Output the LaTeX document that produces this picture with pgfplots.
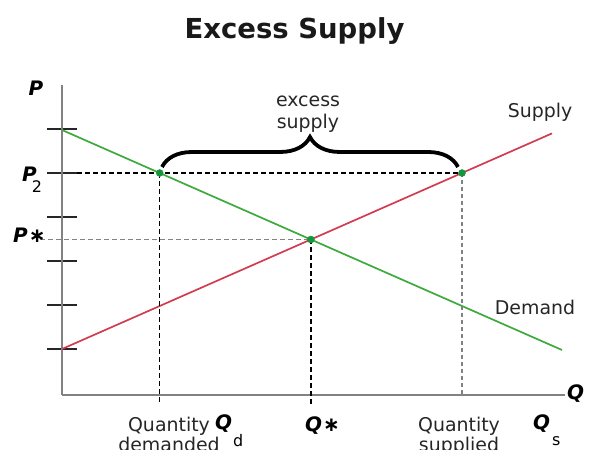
\documentclass[border=0pt]{standalone}
\usepackage{fontspec}
\setmainfont{DejaVu Sans}
\usepackage{pgfplots}
\pgfplotsset{compat=1.18}
\usetikzlibrary{decorations.pathreplacing}
\definecolor{dgreen}{RGB}{60,170,60}
\definecolor{dred}{RGB}{210,60,80}
\definecolor{dotgreen}{RGB}{20,150,60}
\definecolor{axgray}{RGB}{130,130,130}
\begin{document}
\begin{tikzpicture}
\begin{axis}[
 x=1bp, y=1bp,
 xmin=0, xmax=503, ymin=0, ymax=310,
 axis lines*=left,
 axis line style={-, axgray, line width=2.5bp},
 xtick=\empty,
 ytick={46,90,134,178,222,266},
 yticklabels={},
 major tick length=30bp,
 tick align=center,
 tick style={black!85, line width=1.3bp},
 clip=false,
]
% supply and demand
\addplot[dred, line width=1.7bp] coordinates {(0,46) (490,261.6)};
\addplot[dgreen, line width=1.7bp] coordinates {(0,265) (500,45)};
% guide lines
\addplot[black, line width=1.2bp, dash pattern=on 5bp off 3bp] coordinates {(15,222) (400,222)};
\addplot[black, line width=1.2bp, dash pattern=on 5bp off 3bp] coordinates {(97.7,222) (97.7,-10)};
\addplot[black, line width=1.2bp, dash pattern=on 5bp off 3bp] coordinates {(248.9,155.5) (248.9,-12)};
\addplot[axgray, line width=1.6bp, dash pattern=on 4bp off 3bp] coordinates {(400,222) (400,0)};
\addplot[axgray, line width=1.6bp, dash pattern=on 5bp off 3bp] coordinates {(-22,155.5) (248.9,155.5)};
% points
\addplot[only marks, mark=*, mark size=3.5bp, dotgreen] coordinates {(97.7,222) (400,222) (248.9,155.5)};
% brace
\draw[decorate, decoration={brace, amplitude=30bp, aspect=0.5}, line width=3.8bp] (axis cs:100,228) -- (axis cs:396,228);
% texts
\node[anchor=base, inner sep=0, font=\fontsize{27.6}{30}\selectfont\bfseries, text=black!90] at (axis cs:232.5,356) {Excess Supply};
\node[anchor=base, inner sep=0, font=\fontsize{19}{20}\selectfont, text=black!85] at (axis cs:246,288) {excess};
\node[anchor=base, inner sep=0, font=\fontsize{19}{20}\selectfont, text=black!85] at (axis cs:246,266) {supply};
\node[anchor=base, inner sep=0, font=\fontsize{19}{20}\selectfont, text=black!85] at (axis cs:478,277) {Supply};
\node[anchor=base, inner sep=0, font=\fontsize{19}{20}\selectfont, text=black!85] at (axis cs:473,80) {Demand};
\node[anchor=base, inner sep=0, font=\fontsize{20}{20}\selectfont\bfseries\itshape] at (axis cs:-26,299) {P};
\node[anchor=base west, inner sep=0] at (axis cs:-40,213) {{\fontsize{20}{20}\selectfont\bfseries\itshape P}\kern-5bp\raisebox{-11bp}{\fontsize{16}{16}\selectfont 2}};
\node[anchor=base west, inner sep=0] at (axis cs:-49,152) {{\fontsize{20}{20}\selectfont\bfseries\itshape P}\kern1bp{\fontsize{20}{20}\selectfont\bfseries ∗}};
\node[anchor=base west, inner sep=0] at (axis cs:505,-5) {\fontsize{20}{20}\selectfont\bfseries\itshape Q};
\node[anchor=base, inner sep=0, font=\fontsize{19}{20}\selectfont, text=black!85] at (axis cs:107,-37) {Quantity};
\node[anchor=base, inner sep=0, font=\fontsize{19}{20}\selectfont, text=black!85] at (axis cs:107,-57) {demanded};
\node[anchor=base, inner sep=0, font=\fontsize{19}{20}\selectfont, text=black!85] at (axis cs:397,-37) {Quantity};
\node[anchor=base, inner sep=0, font=\fontsize{19}{20}\selectfont, text=black!85] at (axis cs:397,-57) {supplied};
\node[anchor=base west, inner sep=0] at (axis cs:153,-35) {{\fontsize{20}{20}\selectfont\bfseries\itshape Q}\kern1bp\raisebox{-17bp}{\fontsize{16}{16}\selectfont d}};
\node[anchor=base west, inner sep=0] at (axis cs:243,-37) {{\fontsize{20}{20}\selectfont\bfseries\itshape Q}\kern1bp{\fontsize{20}{20}\selectfont\bfseries ∗}};
\node[anchor=base west, inner sep=0] at (axis cs:471,-35) {{\fontsize{20}{20}\selectfont\bfseries\itshape Q}\kern2bp\raisebox{-16bp}{\fontsize{16}{16}\selectfont s}};
\coordinate (BL) at (axis cs:-62,-55);
\coordinate (TR) at (axis cs:530,395);
\end{axis}
\pgfresetboundingbox
\useasboundingbox (BL) rectangle (TR);
\end{tikzpicture}
\end{document}
